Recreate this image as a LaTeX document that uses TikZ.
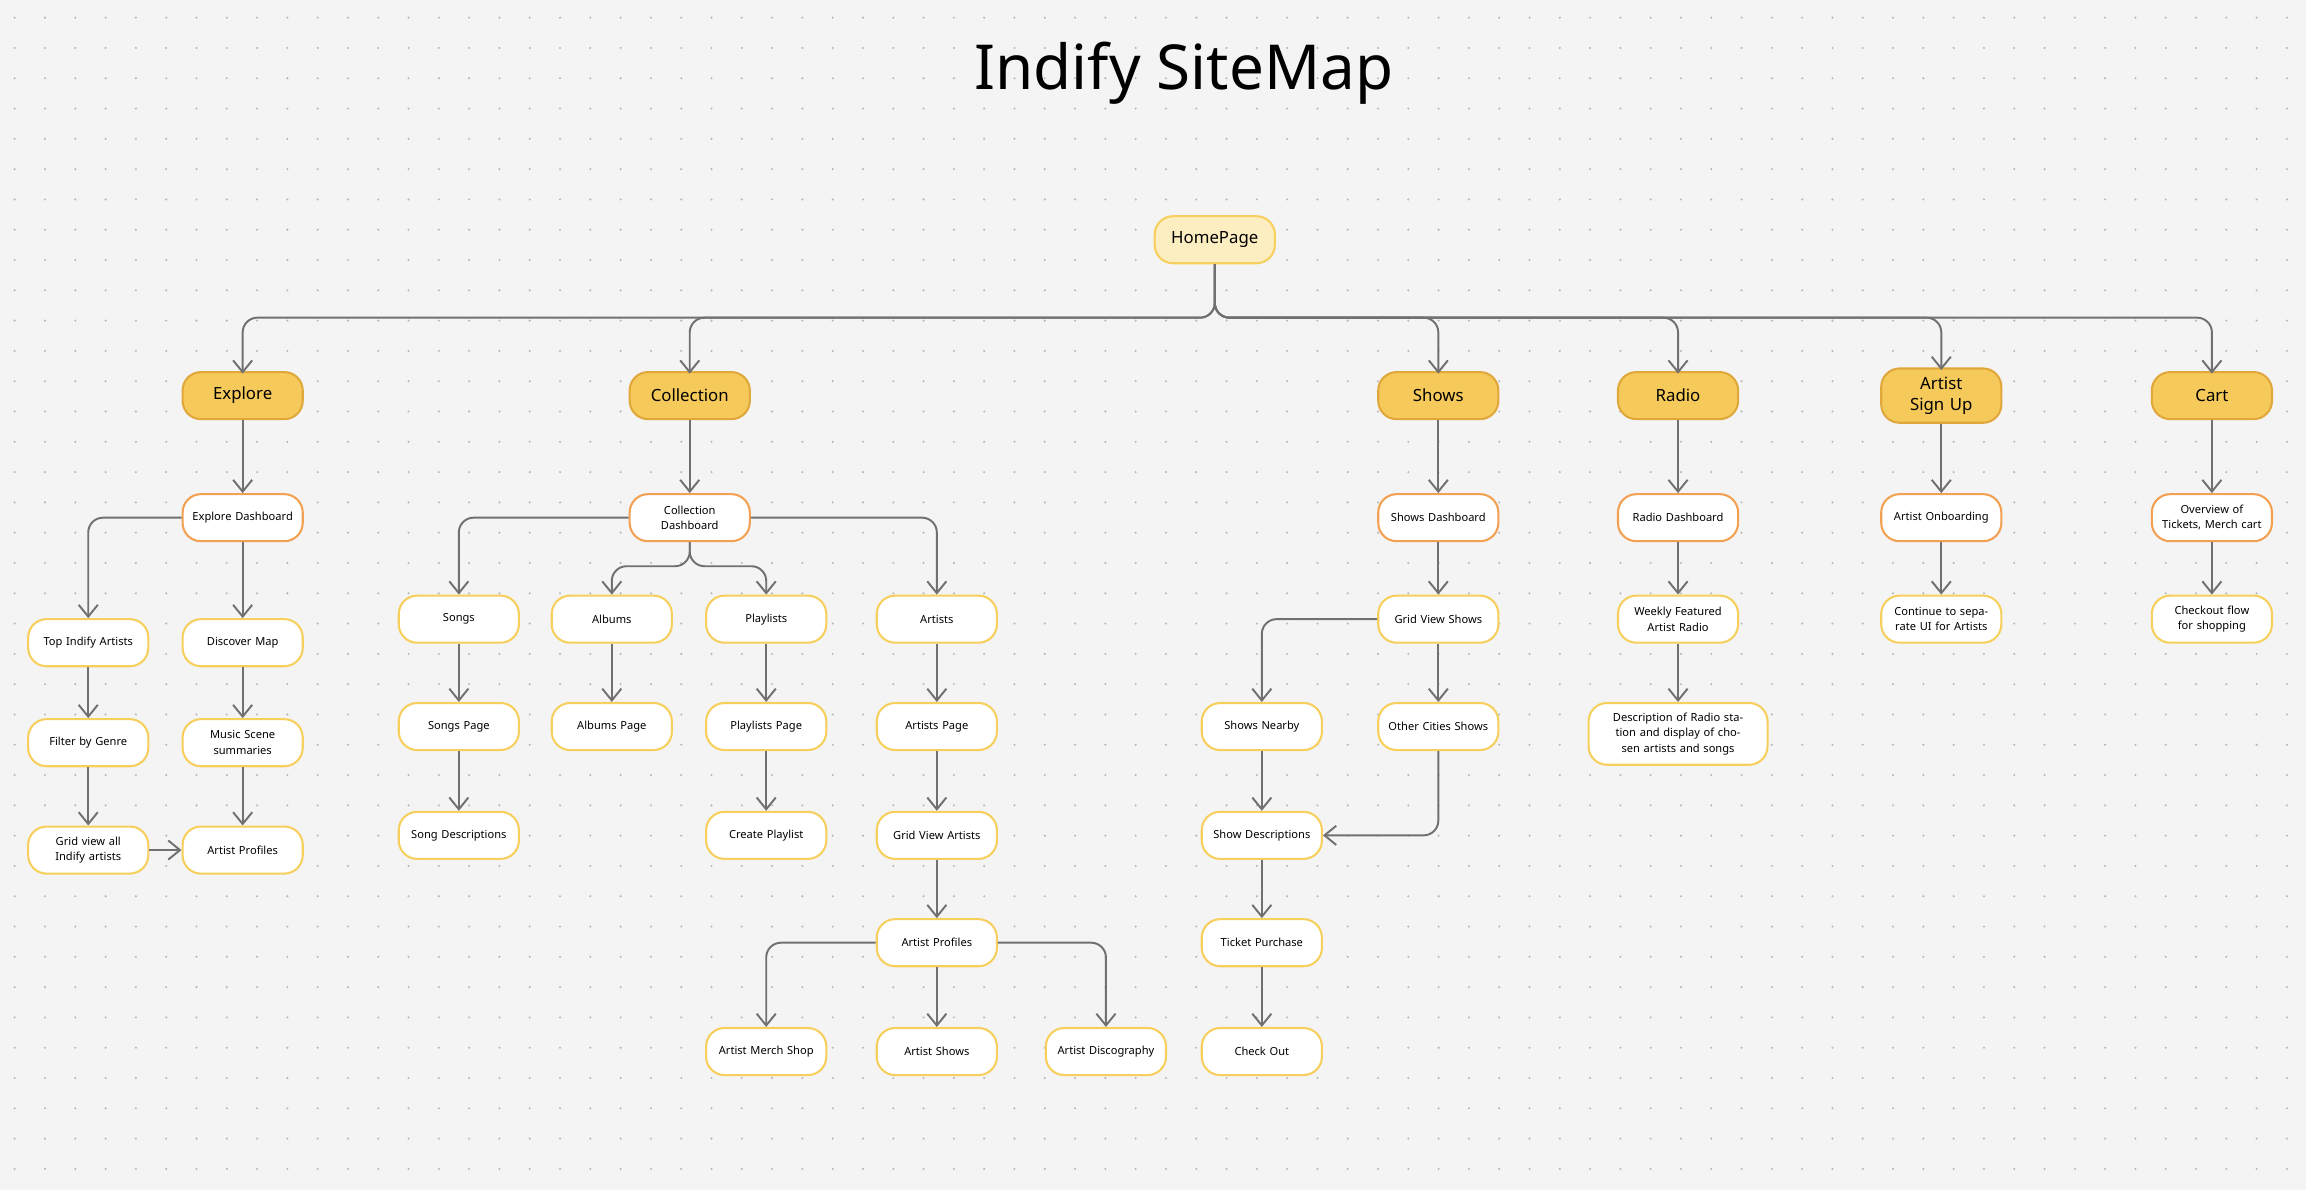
\documentclass[tikz,border=0pt]{standalone}
\usepackage{fontspec}
\setmainfont{Noto Sans}
\usetikzlibrary{arrows.meta}
\definecolor{bg}{HTML}{F4F4F4}
\definecolor{dotc}{HTML}{B8B8B8}
\definecolor{linec}{HTML}{707070}
\definecolor{headfill}{HTML}{F6C95B}
\definecolor{headdraw}{HTML}{E0A83A}
\definecolor{homefill}{HTML}{FDEEC2}
\definecolor{leafdraw}{HTML}{F7CF5C}
\definecolor{dashdraw}{HTML}{F2A052}
\tikzset{
  box/.style={rounded corners=0.25cm, minimum width=1.48cm, minimum height=0.64cm, align=center, line width=0.8pt, text width=1.4cm, font=\fontsize{4.3}{6}\selectfont},
  leaf/.style={box, draw=leafdraw, fill=white},
  dashbox/.style={box, draw=dashdraw, fill=white, font=\fontsize{4.3}{6}\selectfont\bfseries},
  head/.style={box, draw=headdraw, fill=headfill, font=\fontsize{6.5}{8}\selectfont\bfseries},
  arr/.style={draw=linec, line width=0.75pt, rounded corners=0.2cm, -{Straight Barb[length=1.6mm,width=2.6mm]}},
}
\begin{document}
\begin{tikzpicture}[x=0.02cm,y=-0.02cm]
	\fill[bg] (0,0) rectangle (1568,809);
	\useasboundingbox (0,0) rectangle (1568,809);
	% dot grid
	\foreach \i in {0,...,76}
		\foreach \j in {0,...,39}
			\fill[dotc] (10+20.6*\i,12+20.6*\j) circle (0.45pt);
	\node[font=\fontsize{24}{28}\selectfont] (title) at (805,50) {Indify SiteMap};
	\node[head, fill=homefill, draw=leafdraw] (home) at (826,163) {HomePage};
	\coordinate (bus) at (826,216);
	% top level
	\node[head] (explore) at (165,269) {Explore};
	\node[head] (collection) at (469,269) {Collection};
	\node[head] (shows) at (978,269) {Shows};
	\node[head] (radio) at (1141,269) {Radio};
	\node[head] (signup) at (1320,269) {Artist Sign Up};
	\node[head] (cart) at (1504,269) {Cart};
	\foreach \n in {explore,collection,shows,radio,signup,cart}
		\draw[arr] (home.south) -- (home.south |- bus) -| ([yshift=-1pt]\n.north);
	% explore
	\node[dashbox] (exdash) at (165,352) {Explore Dashboard};
	\node[leaf] (topart) at (60,437) {Top Indify Artists};
	\node[leaf] (dismap) at (165,437) {Discover Map};
	\node[leaf] (genre) at (60,505) {Filter by Genre};
	\node[leaf] (scene) at (165,505) {Music Scene summaries};
	\node[leaf] (gridall) at (60,578) {Grid view all Indify artists};
	\node[leaf] (exprof) at (165,578) {Artist Profiles};
	\draw[arr] (explore) -- (exdash);
	\draw[arr] (exdash.west) -| (topart.north);
	\draw[arr] (exdash) -- (dismap);
	\draw[arr] (topart) -- (genre);
	\draw[arr] (dismap) -- (scene);
	\draw[arr] (genre) -- (gridall);
	\draw[arr] (scene) -- (exprof);
	\draw[arr] (gridall) -- (exprof);
	% collection
	\node[dashbox] (coldash) at (469,352) {Collection Dashboard};
	\node[leaf] (songs) at (312,421) {Songs};
	\node[leaf] (albums) at (416,421) {Albums};
	\node[leaf] (playlists) at (521,421) {Playlists};
	\node[leaf] (artists) at (637,421) {Artists};
	\node[leaf] (songpage) at (312,494) {Songs Page};
	\node[leaf] (albumpage) at (416,494) {Albums Page};
	\node[leaf] (playpage) at (521,494) {Playlists Page};
	\node[leaf] (artpage) at (637,494) {Artists Page};
	\node[leaf] (songdesc) at (312,568) {Song Descriptions};
	\node[leaf] (createpl) at (521,568) {Create Playlist};
	\node[leaf] (gridart) at (637,568) {Grid View Artists};
	\node[leaf] (colprof) at (637,641) {Artist Profiles};
	\node[leaf] (merch) at (521,715) {Artist Merch Shop};
	\node[leaf] (artshows) at (637,715) {Artist Shows};
	\node[leaf] (discog) at (752,715) {Artist Discography};
	\coordinate (colsplit) at (469,385);
	\draw[arr] (collection) -- (coldash);
	\draw[arr] (coldash.west) -| (songs.north);
	\draw[arr] (coldash.south) -- (colsplit) -| (albums.north);
	\draw[arr] (coldash.south) -- (colsplit) -| (playlists.north);
	\draw[arr] (coldash.east) -| (artists.north);
	\draw[arr] (songs) -- (songpage);
	\draw[arr] (albums) -- (albumpage);
	\draw[arr] (playlists) -- (playpage);
	\draw[arr] (artists) -- (artpage);
	\draw[arr] (songpage) -- (songdesc);
	\draw[arr] (playpage) -- (createpl);
	\draw[arr] (artpage) -- (gridart);
	\draw[arr] (gridart) -- (colprof);
	\draw[arr] (colprof.west) -| (merch.north);
	\draw[arr] (colprof) -- (artshows);
	\draw[arr] (colprof.east) -| (discog.north);
	% shows
	\node[dashbox] (shdash) at (978,352) {Shows Dashboard};
	\node[leaf] (gridshows) at (978,421) {Grid View Shows};
	\node[leaf] (nearby) at (858,494) {Shows Nearby};
	\node[leaf] (othercity) at (978,494) {Other Cities Shows};
	\node[leaf] (showdesc) at (858,568) {Show Descriptions};
	\node[leaf] (ticket) at (858,641) {Ticket Purchase};
	\node[leaf] (checkout) at (858,715) {Check Out};
	\draw[arr] (shows) -- (shdash);
	\draw[arr] (shdash) -- (gridshows);
	\draw[arr] (gridshows.west) -| (nearby.north);
	\draw[arr] (gridshows) -- (othercity);
	\draw[arr] (nearby) -- (showdesc);
	\draw[arr] (othercity.south) |- (showdesc.east);
	\draw[arr] (showdesc) -- (ticket);
	\draw[arr] (ticket) -- (checkout);
	% radio
	\node[dashbox] (radash) at (1141,352) {Radio Dashboard};
	\node[leaf] (weekly) at (1141,421) {Weekly Featured Artist Radio};
	\node[leaf, minimum width=2.3cm, text width=2.2cm, minimum height=0.84cm] (radesc) at (1141,499) {Description of Radio station and display of chosen artists and songs};
	\draw[arr] (radio) -- (radash);
	\draw[arr] (radash) -- (weekly);
	\draw[arr] (weekly) -- (radesc);
	% artist sign up
	\node[dashbox] (onboard) at (1320,352) {Artist Onboarding};
	\node[leaf] (sepui) at (1320,421) {Continue to separate UI for Artists};
	\draw[arr] (signup) -- (onboard);
	\draw[arr] (onboard) -- (sepui);
	% cart
	\node[dashbox] (overview) at (1504,352) {Overview of Tickets, Merch cart};
	\node[leaf] (shopflow) at (1504,421) {Checkout flow for shopping};
	\draw[arr] (cart) -- (overview);
	\draw[arr] (overview) -- (shopflow);
\end{tikzpicture}
\end{document}
